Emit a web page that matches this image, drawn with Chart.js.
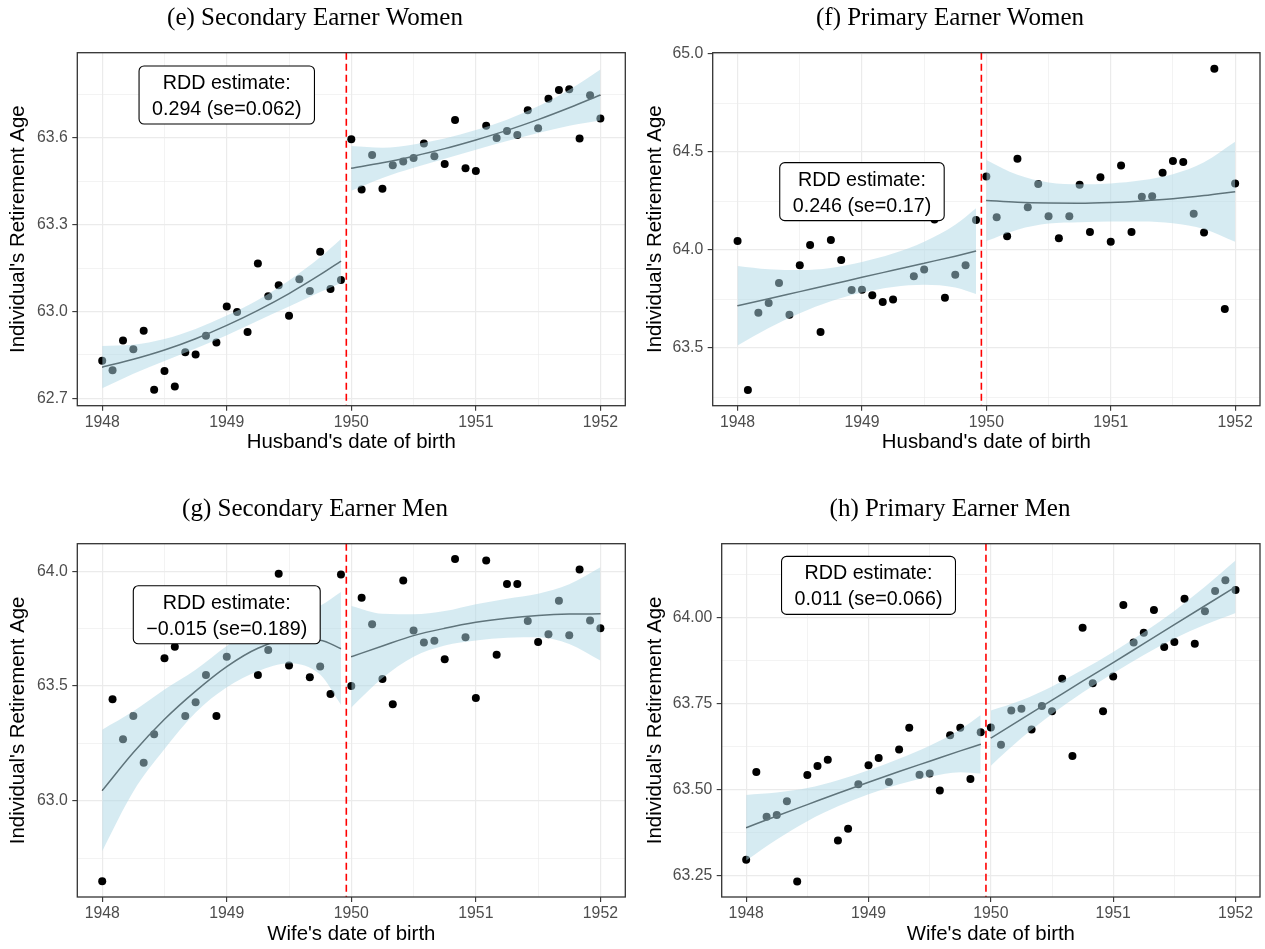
<!DOCTYPE html>
<html>
<head>
<meta charset="utf-8">
<script src="https://cdn.jsdelivr.net/npm/chart.js@4.4.1/dist/chart.umd.min.js"></script>
<style>
html,body{margin:0;padding:0;background:#ffffff;}
#wrap{position:relative;width:1265px;height:949px;overflow:hidden;background:#fff;}
canvas{position:absolute;}
</style>
</head>
<body>
<div id="wrap">
<canvas id="pe" width="632" height="474" style="left:0px;top:0px"></canvas>
<canvas id="pf" width="633" height="474" style="left:632px;top:0px"></canvas>
<canvas id="pg" width="632" height="475" style="left:0px;top:474px"></canvas>
<canvas id="ph" width="633" height="475" style="left:632px;top:474px"></canvas>
</div>
<script>
// ---------------- DATA ----------------
const birthDates = [1948.000, 1948.083, 1948.167, 1948.250, 1948.333, 1948.417, 1948.500, 1948.583, 1948.667, 1948.750, 1948.833, 1948.917,
  1949.000, 1949.083, 1949.167, 1949.250, 1949.333, 1949.417, 1949.500, 1949.583, 1949.667, 1949.750, 1949.833, 1949.917,
  1950.000, 1950.083, 1950.167, 1950.250, 1950.333, 1950.417, 1950.500, 1950.583, 1950.667, 1950.750, 1950.833, 1950.917,
  1951.000, 1951.083, 1951.167, 1951.250, 1951.333, 1951.417, 1951.500, 1951.583, 1951.667, 1951.750, 1951.833, 1951.917, 1952.000];

const cutoffDate = 1949.96;

const xTicks = [1948, 1949, 1950, 1951, 1952];
const xTickLabels = ['1948', '1949', '1950', '1951', '1952'];
const xMinorTicks = [1948.5, 1949.5, 1950.5, 1951.5];

const leftFitDates = [1948, 1948.25, 1948.5, 1948.75, 1949, 1949.25, 1949.5, 1949.75, 1949.917];
const rightFitDates = [1950, 1950.25, 1950.5, 1950.75, 1951, 1951.25, 1951.5, 1951.75, 1952];

// (e) Secondary Earner Women
const eRetAge = [62.830, 62.797, 62.900, 62.870, 62.934, 62.730, 62.795, 62.741, 62.859, 62.852, 62.916, 62.893,
  63.017, 62.998, 62.929, 63.166, 63.053, 63.091, 62.985, 63.111, 63.071, 63.206, 63.078, 63.109,
  63.594, 63.421, 63.540, 63.424, 63.505, 63.518, 63.530, 63.580, 63.536, 63.509, 63.661, 63.494,
  63.485, 63.641, 63.599, 63.623, 63.609, 63.694, 63.632, 63.734, 63.764, 63.767, 63.597, 63.746, 63.666];
const eFitLeft  = [62.808, 62.835, 62.867, 62.906, 62.952, 63.004, 63.062, 63.127, 63.174];
const eLowLeft  = [62.735, 62.785, 62.829, 62.872, 62.918, 62.968, 63.017, 63.067, 63.098];
const eHighLeft = [62.881, 62.885, 62.905, 62.940, 62.986, 63.040, 63.107, 63.187, 63.250];
const eFitRight  = [63.494, 63.513, 63.536, 63.562, 63.592, 63.625, 63.662, 63.703, 63.747];
const eLowRight  = [63.417, 63.461, 63.496, 63.527, 63.558, 63.588, 63.616, 63.641, 63.659];
const eHighRight = [63.571, 63.565, 63.576, 63.597, 63.626, 63.662, 63.708, 63.765, 63.835];
const eYTicks = [62.7, 63.0, 63.3, 63.6];
const eYTickLabels = ['62.7', '63.0', '63.3', '63.6'];
const eYMinor = [62.85, 63.15, 63.45, 63.75];

// (f) Primary Earner Women
const fRetAge = [64.046, 63.286, 63.680, 63.730, 63.832, 63.670, 63.922, 64.026, 63.582, 64.051, 63.949, 63.796,
  63.798, 63.770, 63.735, 63.748, 64.300, 63.867, 63.901, 64.156, 63.757, 63.874, 63.922, 64.153,
  64.376, 64.167, 64.071, 64.466, 64.218, 64.337, 64.172, 64.060, 64.172, 64.333, 64.092, 64.371,
  64.043, 64.432, 64.092, 64.272, 64.274, 64.395, 64.454, 64.449, 64.185, 64.090, 64.925, 63.699, 64.340];
const fFitLeft  = [63.716, 63.752, 63.788, 63.824, 63.861, 63.897, 63.933, 63.969, 63.995];
const fLowLeft  = [63.513, 63.602, 63.678, 63.739, 63.783, 63.812, 63.823, 63.809, 63.776];
const fHighLeft = [63.919, 63.902, 63.898, 63.909, 63.939, 63.982, 64.043, 64.129, 64.214];
const fFitRight  = [64.253, 64.244, 64.240, 64.239, 64.243, 64.251, 64.262, 64.278, 64.298];
const fLowRight  = [64.046, 64.104, 64.135, 64.142, 64.146, 64.146, 64.137, 64.108, 64.043];
const fHighRight = [64.460, 64.384, 64.345, 64.336, 64.340, 64.356, 64.387, 64.448, 64.553];
const fYTicks = [63.5, 64.0, 64.5, 65.0];
const fYTickLabels = ['63.5', '64.0', '64.5', '65.0'];
const fYMinor = [63.25, 63.75, 64.25, 64.75];

// (g) Secondary Earner Men
const gRetAge = [62.649, 63.442, 63.268, 63.370, 63.166, 63.290, 63.621, 63.671, 63.370, 63.429, 63.548, 63.369,
  63.628, 63.780, 63.860, 63.548, 63.657, 63.990, 63.590, 63.740, 63.539, 63.585, 63.465, 63.987,
  63.500, 63.885, 63.770, 63.531, 63.421, 63.961, 63.742, 63.690, 63.698, 63.617, 64.054, 63.713,
  63.448, 64.048, 63.637, 63.945, 63.945, 63.784, 63.692, 63.726, 63.872, 63.722, 64.009, 63.786, 63.752];
const gFitLeft  = [63.044, 63.210, 63.355, 63.478, 63.585, 63.665, 63.705, 63.700, 63.663];
const gLowLeft  = [62.780, 63.040, 63.225, 63.385, 63.495, 63.565, 63.600, 63.550, 63.418];
const gHighLeft = [63.310, 63.390, 63.485, 63.571, 63.675, 63.765, 63.810, 63.850, 63.910];
const gFitRight  = [63.628, 63.675, 63.720, 63.752, 63.778, 63.796, 63.808, 63.814, 63.815];
const gLowRight  = [63.407, 63.535, 63.628, 63.677, 63.699, 63.711, 63.713, 63.684, 63.612];
const gHighRight = [63.849, 63.815, 63.813, 63.827, 63.857, 63.881, 63.903, 63.944, 64.018];
const gYTicks = [63.0, 63.5, 64.0];
const gYTickLabels = ['63.0', '63.5', '64.0'];
const gYMinor = [62.75, 63.25, 63.75];

// (h) Primary Earner Men
const hRetAge = [63.297, 63.552, 63.422, 63.427, 63.467, 63.234, 63.543, 63.569, 63.587, 63.353, 63.387, 63.516,
  63.571, 63.592, 63.523, 63.617, 63.680, 63.544, 63.547, 63.498, 63.658, 63.680, 63.531, 63.667,
  63.681, 63.631, 63.730, 63.735, 63.675, 63.743, 63.728, 63.822, 63.598, 63.970, 63.809, 63.728,
  63.829, 64.036, 63.927, 63.956, 64.022, 63.914, 63.929, 64.054, 63.924, 64.018, 64.077, 64.108, 64.080];
const hFitLeft  = [63.390, 63.424, 63.457, 63.490, 63.522, 63.553, 63.583, 63.613, 63.632];
const hLowLeft  = [63.295, 63.356, 63.409, 63.452, 63.487, 63.516, 63.538, 63.551, 63.547];
const hHighLeft = [63.485, 63.492, 63.505, 63.528, 63.557, 63.590, 63.628, 63.675, 63.717];
const hFitRight  = [63.650, 63.705, 63.760, 63.815, 63.869, 63.924, 63.979, 64.034, 64.089];
const hLowRight  = [63.570, 63.650, 63.720, 63.782, 63.838, 63.891, 63.939, 63.979, 64.013];
const hHighRight = [63.730, 63.760, 63.800, 63.848, 63.900, 63.957, 64.019, 64.089, 64.165];
const hYTicks = [63.25, 63.50, 63.75, 64.00];
const hYTickLabels = ['63.25', '63.50', '63.75', '64.00'];
const hYMinor = [63.375, 63.625, 63.875, 64.125];

// ---------------- DRAWING ----------------
const SANS = "'Liberation Sans', Arial, Helvetica, sans-serif";
const SERIF = "'Liberation Serif', 'DejaVu Serif', serif";
const BAND = 'rgba(173,216,230,0.5)';
Chart.defaults.font.family = SANS;

function pts(xs, ys) { return xs.map((x, i) => ({ x: x, y: ys[i] })); }
function isIn(list, v) { return list.some(m => Math.abs(m - v) < 1e-6); }
function labelFor(list, labels, v) {
  const i = list.findIndex(m => Math.abs(m - v) < 1e-6);
  return i >= 0 ? labels[i] : '';
}

function roundRectPath(ctx, x, y, w, h, r) {
  ctx.beginPath();
  ctx.moveTo(x + r, y);
  ctx.lineTo(x + w - r, y);
  ctx.arcTo(x + w, y, x + w, y + r, r);
  ctx.lineTo(x + w, y + h - r);
  ctx.arcTo(x + w, y + h, x + w - r, y + h, r);
  ctx.lineTo(x + r, y + h);
  ctx.arcTo(x, y + h, x, y + h - r, r);
  ctx.lineTo(x, y + r);
  ctx.arcTo(x, y, x + r, y, r);
  ctx.closePath();
}

const decorPlugin = {
  id: 'decor',
  afterDatasetsDraw(chart, args, opts) {
    const ctx = chart.ctx, a = chart.chartArea, xs = chart.scales.x, ys = chart.scales.y;
    ctx.save();
    ctx.beginPath(); ctx.rect(a.left, a.top, a.right - a.left, a.bottom - a.top); ctx.clip();
    const vx = xs.getPixelForValue(opts.cutoff);
    ctx.strokeStyle = '#FF0000'; ctx.lineWidth = 1.6; ctx.setLineDash([7, 4]);
    ctx.beginPath(); ctx.moveTo(vx, a.top); ctx.lineTo(vx, a.bottom); ctx.stroke();
    ctx.setLineDash([]);
    ctx.font = '19.7px ' + SANS;
    const w = Math.max.apply(null, opts.lines.map(t => ctx.measureText(t).width)) + 26;
    const h = 58;
    const cx = xs.getPixelForValue(opts.labelX), cy = ys.getPixelForValue(opts.labelY);
    const bx = cx - w / 2, by = cy - h / 2;
    roundRectPath(ctx, bx, by, w, h, 5);
    ctx.fillStyle = '#ffffff'; ctx.fill();
    ctx.lineWidth = 1.1; ctx.strokeStyle = '#000000'; ctx.stroke();
    ctx.fillStyle = '#000000'; ctx.textAlign = 'center'; ctx.textBaseline = 'middle';
    ctx.fillText(opts.lines[0], cx, by + 17.6);
    ctx.fillText(opts.lines[1], cx, by + 43.6);
    ctx.restore();
    ctx.save();
    ctx.strokeStyle = '#333333'; ctx.lineWidth = 1.3;
    ctx.strokeRect(a.left, a.top, a.right - a.left, a.bottom - a.top);
    ctx.restore();
  }
};

function makePanel(p) {
  const xAll = xTicks.concat(xMinorTicks).sort((a, b) => a - b);
  const yAll = p.yTicks.concat(p.yMinor).sort((a, b) => a - b);
  const bandLine = { type: 'line', borderWidth: 0, borderColor: 'rgba(0,0,0,0)', pointRadius: 0, cubicInterpolationMode: 'monotone', order: 1 };
  const fitLine = { type: 'line', borderWidth: 1.5, borderColor: '#111111', pointRadius: 0, fill: false, cubicInterpolationMode: 'monotone', order: 2 };
  new Chart(document.getElementById(p.id), {
    type: 'scatter',
    data: {
      datasets: [
        Object.assign({}, bandLine, { data: pts(leftFitDates, p.hiL), fill: '+1', backgroundColor: BAND }),
        Object.assign({}, bandLine, { data: pts(leftFitDates, p.loL), fill: false }),
        Object.assign({}, bandLine, { data: pts(rightFitDates, p.hiR), fill: '+1', backgroundColor: BAND }),
        Object.assign({}, bandLine, { data: pts(rightFitDates, p.loR), fill: false }),
        Object.assign({}, fitLine, { data: pts(leftFitDates, p.fitL) }),
        Object.assign({}, fitLine, { data: pts(rightFitDates, p.fitR) }),
        { type: 'scatter', data: pts(birthDates, p.ret), pointRadius: 4, pointBackgroundColor: '#000000', backgroundColor: '#000000', borderWidth: 0, pointBorderWidth: 0, order: 3 }
      ]
    },
    options: {
      responsive: false, animation: false, events: [],
      layout: { autoPadding: false, padding: { left: p.padL, right: p.padR, top: 0, bottom: 0 } },
      plugins: {
        legend: { display: false },
        tooltip: { enabled: false },
        title: { display: true, text: p.title, color: '#000000',
                 font: { family: SERIF, size: 25, weight: 'normal', lineHeight: 1.2 },
                 padding: { top: p.tPadTop, bottom: p.tPadBottom } },
        decor: { cutoff: cutoffDate, labelX: p.labelX, labelY: p.labelY, lines: p.lines }
      },
      scales: {
        x: {
          type: 'linear', position: 'bottom', min: 1947.8, max: 1952.2, bounds: 'data',
          afterBuildTicks: ax => { ax.ticks = xAll.map(v => ({ value: v })); },
          afterFit: ax => { ax.height = p.xAxisH; },
          ticks: { autoSkip: false, maxRotation: 0, padding: 2.5, color: '#4D4D4D',
                   font: { family: SANS, size: 15.8 },
                   callback: v => labelFor(xTicks, xTickLabels, v) },
          grid: { color: '#EBEBEB', tickLength: 5,
                  lineWidth: c => (c.tick && isIn(xTicks, c.tick.value)) ? 1.2 : 0.6,
                  tickColor: c => (c.tick && isIn(xTicks, c.tick.value)) ? '#333333' : 'rgba(0,0,0,0)',
                  tickWidth: 1.1 },
          border: { display: false },
          title: { display: true, text: p.xTitle, color: '#000000', font: { family: SANS, size: 20.4 },
                   padding: { top: 0, bottom: p.xTitlePad } }
        },
        y: {
          type: 'linear', position: 'left', min: p.yMin, max: p.yMax, bounds: 'data',
          afterBuildTicks: ax => { ax.ticks = yAll.map(v => ({ value: v })); },
          afterFit: ax => { ax.width = p.yAxisW; },
          ticks: { autoSkip: false, padding: 4.5, color: '#4D4D4D',
                   font: { family: SANS, size: 15.8 },
                   callback: v => labelFor(p.yTicks, p.yTickLabels, v) },
          grid: { color: '#EBEBEB', tickLength: 5,
                  lineWidth: c => (c.tick && isIn(p.yTicks, c.tick.value)) ? 1.2 : 0.6,
                  tickColor: c => (c.tick && isIn(p.yTicks, c.tick.value)) ? '#333333' : 'rgba(0,0,0,0)',
                  tickWidth: 1.1 },
          border: { display: false },
          title: { display: true, text: "Individual's Retirement Age", color: '#000000',
                   font: { family: SANS, size: 20.4 }, padding: { top: p.yTitlePad, bottom: 0 } }
        }
      }
    },
    plugins: [decorPlugin]
  });
}

makePanel({ id: 'pe', title: '(e) Secondary Earner Women', xTitle: "Husband's date of birth",
  ret: eRetAge, fitL: eFitLeft, loL: eLowLeft, hiL: eHighLeft, fitR: eFitRight, loR: eLowRight, hiR: eHighRight,
  yMin: 62.675, yMax: 63.893, yTicks: eYTicks, yTickLabels: eYTickLabels, yMinor: eYMinor,
  labelX: 1949, labelY: 63.747, lines: ['RDD estimate:', '0.294 (se=0.062)'],
  padL: 4.7, padR: 6.7, yAxisW: 72.6, xAxisH: 68.3, tPadTop: 3, tPadBottom: 19.7, yTitlePad: 1.3, xTitlePad: 19 });

makePanel({ id: 'pf', title: '(f) Primary Earner Women', xTitle: "Husband's date of birth",
  ret: fRetAge, fitL: fFitLeft, loL: fLowLeft, hiL: fHighLeft, fitR: fFitRight, loR: fLowRight, hiR: fHighRight,
  yMin: 63.206, yMax: 65.007, yTicks: fYTicks, yTickLabels: fYTickLabels, yMinor: fYMinor,
  labelX: 1949, labelY: 64.298, lines: ['RDD estimate:', '0.246 (se=0.17)'],
  padL: 8, padR: 5, yAxisW: 72.7, xAxisH: 68.3, tPadTop: 3, tPadBottom: 19.7, yTitlePad: 3, xTitlePad: 19 });

makePanel({ id: 'pg', title: '(g) Secondary Earner Men', xTitle: "Wife's date of birth",
  ret: gRetAge, fitL: gFitLeft, loL: gLowLeft, hiL: gHighLeft, fitR: gFitRight, loR: gLowRight, hiR: gHighRight,
  yMin: 62.580, yMax: 64.121, yTicks: gYTicks, yTickLabels: gYTickLabels, yMinor: gYMinor,
  labelX: 1949, labelY: 63.811, lines: ['RDD estimate:', '\u22120.015 (se=0.189)'],
  padL: 4.7, padR: 6.7, yAxisW: 72.6, xAxisH: 52, tPadTop: 20, tPadBottom: 19.7, yTitlePad: 1.3, xTitlePad: 2.8 });

makePanel({ id: 'ph', title: '(h) Primary Earner Men', xTitle: "Wife's date of birth",
  ret: hRetAge, fitL: hFitLeft, loL: hLowLeft, hiL: hHighLeft, fitR: hFitRight, loR: hLowRight, hiR: hHighRight,
  yMin: 63.189, yMax: 64.214, yTicks: hYTicks, yTickLabels: hYTickLabels, yMinor: hYMinor,
  labelX: 1949, labelY: 64.093, lines: ['RDD estimate:', '0.011 (se=0.066)'],
  padL: 8, padR: 5, yAxisW: 81.7, xAxisH: 52, tPadTop: 20, tPadBottom: 19.7, yTitlePad: 3, xTitlePad: 2.8 });
</script>
</body>
</html>
